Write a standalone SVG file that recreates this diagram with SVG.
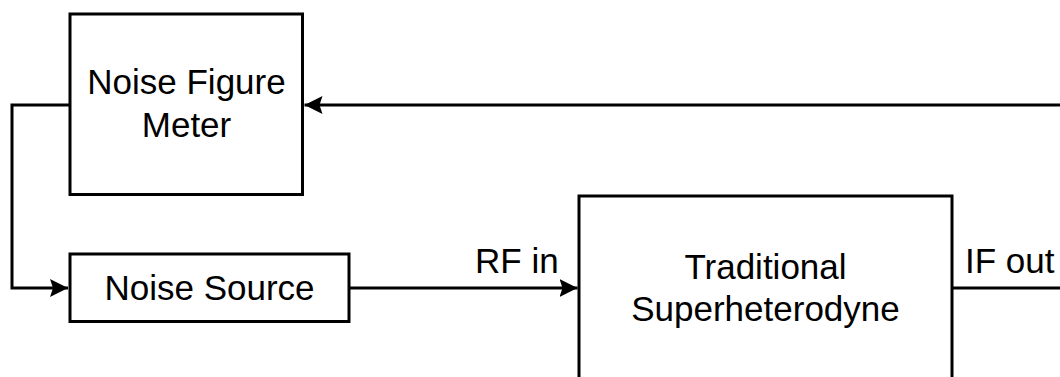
<svg xmlns="http://www.w3.org/2000/svg" width="1060" height="377" viewBox="0 0 1060 377">
<style>
.box{fill:#fff;stroke:#000;stroke-width:3}
.wire{fill:none;stroke:#000;stroke-width:3}
.lbl{font-family:"Liberation Sans",Arial,sans-serif;font-size:35px;fill:#000}
.mid{text-anchor:middle}
</style>
<defs>
<marker id="arr" markerUnits="userSpaceOnUse" markerWidth="20" markerHeight="20" refX="18" refY="9" orient="auto">
<path d="M0,0 L18,9 L0,18 L3,9 z" fill="#000"/>
</marker>
</defs>
<rect width="1060" height="377" fill="#fff"/>
<g id="nfm">
<rect class="box" x="70" y="14" width="232.5" height="180.5"/>
<text class="lbl mid" x="186.5" y="94">Noise Figure</text>
<text class="lbl mid" x="186.5" y="137">Meter</text>
</g>
<g id="noise-source">
<rect class="box" x="70" y="254" width="279" height="67.5"/>
<text class="lbl mid" x="209.5" y="300">Noise Source</text>
</g>
<g id="superhet">
<rect class="box" x="579" y="196" width="373" height="220"/>
<text class="lbl mid" x="765.5" y="279">Traditional</text>
<text class="lbl mid" x="765.5" y="321">Superheterodyne</text>
</g>
<g id="connectors">
<path class="wire" d="M70,105 H12 V288 H68" marker-end="url(#arr)"/>
<path class="wire" d="M1060,105 H304.5" marker-end="url(#arr)"/>
<path class="wire" d="M349,288 H577.5" marker-end="url(#arr)"/>
<path class="wire" d="M952,288 H1060"/>
<text class="lbl" x="475" y="273">RF in</text>
<text class="lbl" x="965" y="273">IF out</text>
</g>
</svg>
